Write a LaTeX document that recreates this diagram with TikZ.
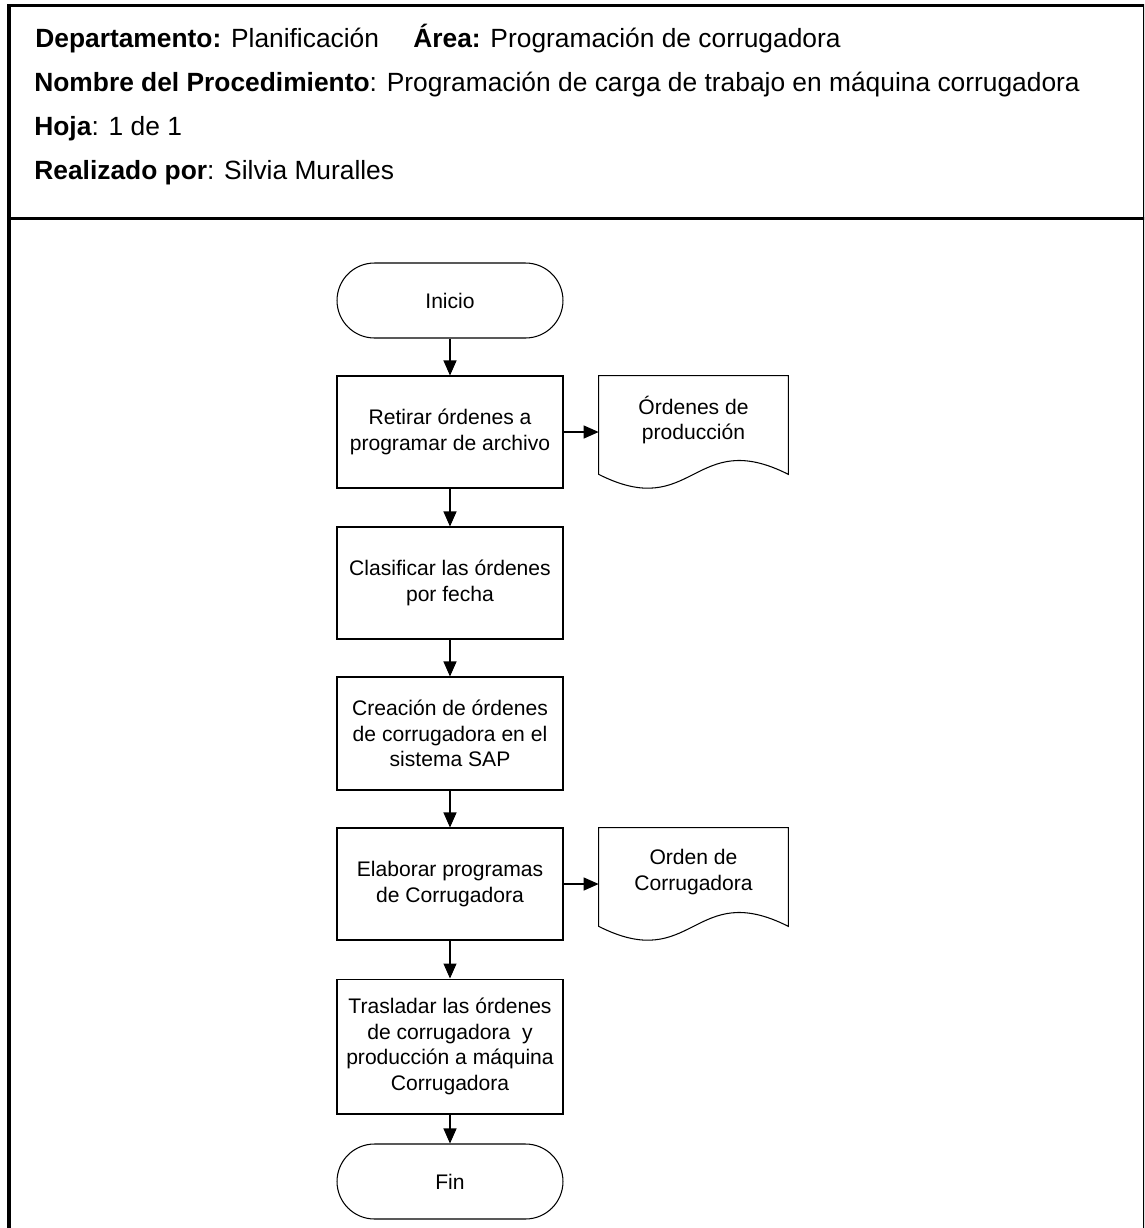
\documentclass[tikz,border=0pt]{standalone}
\usepackage{fontspec}
\setmainfont{Liberation Sans}
\usetikzlibrary{arrows.meta}

\tikzset{
	proceso/.style={draw, line width=0.6pt, minimum width=4.52cm, align=center, font=\fontsize{12}{14.5}\selectfont},
	terminal/.style={draw, line width=0.6pt, rounded corners=0.75cm, minimum width=4.52cm, minimum height=1.5cm, font=\fontsize{12}{14.5}\selectfont},
	documento/.style={minimum width=3.78cm, minimum height=1.76cm, align=center, font=\fontsize{12}{14.5}\selectfont},
	flecha/.style={line width=0.6pt, -{Triangle[length=0.3cm, width=0.26cm]}},
	cabecera/.style={anchor=base west, inner sep=0pt, font=\fontsize{15}{17}\selectfont}
}

\begin{document}
\begin{tikzpicture}[x=0.02cm, y=-0.02cm]
	\clip (0,0) rectangle (1144,1228);
	% marco y cabecera
	\draw[line width=2.15pt] (9.3,1240) |- (1144.6,5.6) -- (1144.6,1240);
	\draw[line width=2pt] (9.3,218.5) -- (1144.6,218.5);
	\node[cabecera] (depto) at (35,47) {\textbf{Departamento:} Planificación};
	\node[cabecera] (area) at (413,47) {\textbf{Área:} Programación de corrugadora};
	\node[cabecera] (nombre) at (34,91) {\textbf{Nombre del Procedimiento}: Programación de carga de trabajo en máquina corrugadora};
	\node[cabecera] (hoja) at (34,135) {\textbf{Hoja}: 1 de 1};
	\node[cabecera] (autor) at (34,179) {\textbf{Realizado por}: Silvia Muralles};

	% diagrama
	\node[terminal] (ini) at (450,300.5) {Inicio};
	\node[proceso, minimum height=2.24cm] (ret) at (450,432) {Retirar órdenes a\\programar de archivo};
	\node[proceso, minimum height=2.24cm] (cla) at (450,583) {Clasificar las órdenes\\por fecha};
	\node[proceso, minimum height=2.26cm] (cre) at (450,733.5) {Creación de órdenes\\de corrugadora en el\\sistema SAP};
	\node[proceso, minimum height=2.24cm] (ela) at (450,884) {Elaborar programas\\de Corrugadora};
	\node[proceso, minimum height=2.7cm] (tra) at (450,1046.5) {Trasladar las órdenes\\de corrugadora~ y\\producción a máquina\\Corrugadora};
	\node[terminal] (fin) at (450,1181.5) {Fin};
	\node[documento] (prod) at (693.5,420) {Órdenes de\\producción};
	\node[documento] (ordc) at (693.5,872) {Orden de\\Corrugadora};

	\foreach \d in {prod,ordc}
		\draw[line width=0.6pt] ([yshift=-0.2cm]\d.south west) -- (\d.north west) -- (\d.north east) -- ([yshift=-0.2cm]\d.south east)
			.. controls ([yshift=0.76cm]\d.south) and ([yshift=-1.16cm]\d.south) .. ([yshift=-0.2cm]\d.south west) -- cycle;

	\draw[flecha] (ini) -- (ret);
	\draw[flecha] (ret) -- (cla);
	\draw[flecha] (cla) -- (cre);
	\draw[flecha] (cre) -- (ela);
	\draw[flecha] (ela) -- (tra);
	\draw[flecha] (tra) -- (fin);
	\draw[flecha] (ret.east) -- (ret.east -| prod.west);
	\draw[flecha] (ela.east) -- (ela.east -| ordc.west);
\end{tikzpicture}
\end{document}
